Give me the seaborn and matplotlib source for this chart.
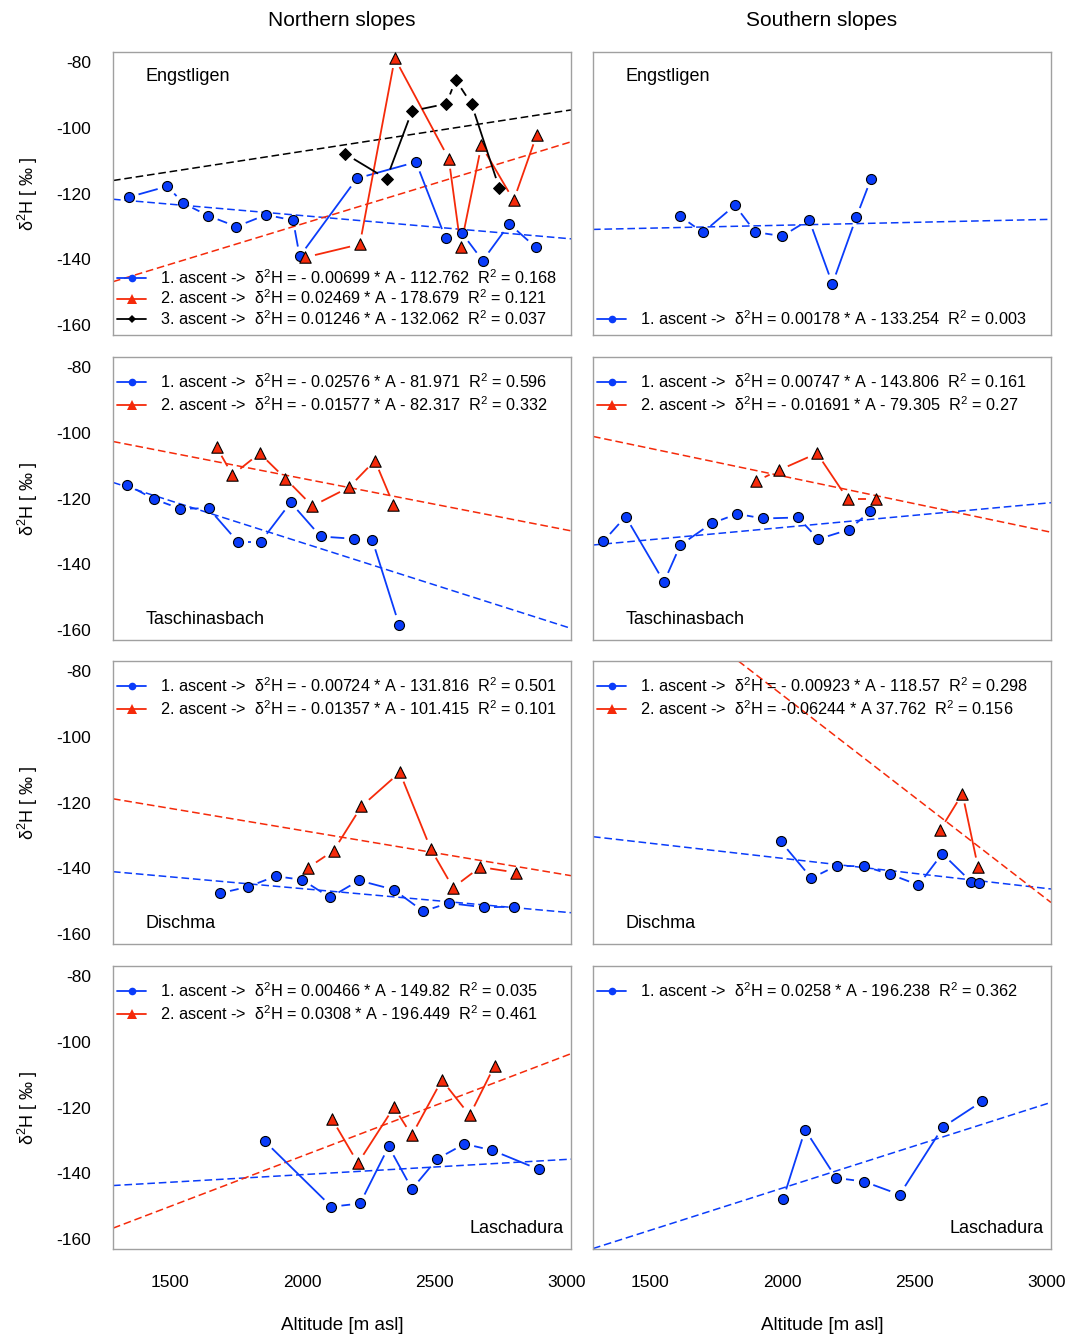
import numpy as np
import pandas as pd
import matplotlib
matplotlib.use("Agg")
import matplotlib.pyplot as plt
import seaborn as sns
from matplotlib.lines import Line2D
from matplotlib.collections import LineCollection

sns.set_theme(style="white")
plt.rcParams["font.family"] = ["Liberation Sans", "DejaVu Sans"]
plt.rcParams["text.color"] = "black"
plt.rcParams["axes.labelcolor"] = "black"
plt.rcParams["axes.unicode_minus"] = False
plt.rcParams["mathtext.fontset"] = "custom"
plt.rcParams["mathtext.rm"] = "Liberation Sans"
plt.rcParams["mathtext.it"] = "Liberation Sans:italic"
plt.rcParams["mathtext.bf"] = "Liberation Sans:bold"
plt.rcParams["mathtext.default"] = "regular"

# ---------------- data ----------------
# Engstligen, northern slopes
eng_n_alt1 = [1346, 1491, 1552, 1646, 1752, 1864, 1966, 1991, 2207, 2430, 2542, 2604, 2682, 2783, 2882]
eng_n_d1 = [-121.1, -117.8, -123.0, -126.8, -130.1, -126.5, -128.2, -139.2, -115.4, -110.4, -133.7, -132.1, -140.5, -129.3, -136.4]
eng_n_alt2 = [2012, 2218, 2350, 2554, 2599, 2677, 2799, 2886]
eng_n_d2 = [-139.5, -135.5, -78.7, -109.4, -136.2, -105.3, -122.1, -102.1]
eng_n_alt3 = [2163, 2319, 2415, 2545, 2580, 2640, 2744]
eng_n_d3 = [-107.9, -115.5, -94.8, -92.6, -85.3, -92.7, -118.2]
eng_n_slope = [-0.00699, 0.02469, 0.01246]
eng_n_icpt = [-112.762, -178.679, -132.062]
eng_n_labels = ["1. ascent ->  δ$^2$H = - 0.00699 * A - 112.762  R$^2$ = 0.168",
                "2. ascent ->  δ$^2$H = 0.02469 * A - 178.679  R$^2$ = 0.121",
                "3. ascent ->  δ$^2$H = 0.01246 * A - 132.062  R$^2$ = 0.037"]

# Engstligen, southern slopes
eng_s_alt1 = [1616, 1701, 1822, 1899, 2001, 2102, 2190, 2280, 2336]
eng_s_d1 = [-127.0, -131.9, -123.6, -131.8, -133.0, -128.0, -147.6, -127.3, -115.5]
eng_s_slope = [0.00178]
eng_s_icpt = [-133.254]
eng_s_labels = ["1. ascent ->  δ$^2$H = 0.00178 * A - 133.254  R$^2$ = 0.003"]

# Taschinasbach, northern slopes
tas_n_alt1 = [1339, 1441, 1539, 1647, 1757, 1844, 1957, 2070, 2197, 2265, 2366]
tas_n_d1 = [-115.8, -120.2, -123.1, -123.0, -133.2, -133.2, -121.2, -131.6, -132.3, -132.6, -158.5]
tas_n_alt2 = [1677, 1737, 1840, 1937, 2039, 2177, 2275, 2345]
tas_n_d2 = [-104.3, -112.8, -106.2, -113.9, -122.3, -116.6, -108.4, -121.9]
tas_n_slope = [-0.02576, -0.01577]
tas_n_icpt = [-81.971, -82.317]
tas_n_labels = ["1. ascent ->  δ$^2$H = - 0.02576 * A - 81.971  R$^2$ = 0.596",
                "2. ascent ->  δ$^2$H = - 0.01577 * A - 82.317  R$^2$ = 0.332"]

# Taschinasbach, southern slopes
tas_s_alt1 = [1325, 1409, 1554, 1616, 1734, 1830, 1929, 2060, 2137, 2252, 2333]
tas_s_d1 = [-133.1, -125.5, -145.5, -134.2, -127.6, -124.7, -126.1, -125.8, -132.4, -129.5, -123.9]
tas_s_alt2 = [1900, 1987, 2132, 2248, 2353]
tas_s_d2 = [-114.8, -111.4, -106.2, -120.2, -120.2]
tas_s_slope = [0.00747, -0.01691]
tas_s_icpt = [-143.806, -79.305]
tas_s_labels = ["1. ascent ->  δ$^2$H = 0.00747 * A - 143.806  R$^2$ = 0.161",
                "2. ascent ->  δ$^2$H = - 0.01691 * A - 79.305  R$^2$ = 0.27"]

# Dischma, northern slopes
dis_n_alt1 = [1691, 1797, 1900, 2001, 2105, 2215, 2346, 2457, 2554, 2687, 2802]
dis_n_d1 = [-147.7, -145.7, -142.5, -143.6, -149.0, -143.8, -146.6, -153.2, -150.7, -152.0, -151.8]
dis_n_alt2 = [2021, 2119, 2224, 2369, 2486, 2570, 2673, 2809]
dis_n_d2 = [-140.0, -134.7, -121.2, -110.8, -134.2, -146.0, -139.7, -141.4]
dis_n_slope = [-0.00724, -0.01357]
dis_n_icpt = [-131.816, -101.415]
dis_n_labels = ["1. ascent ->  δ$^2$H = - 0.00724 * A - 131.816  R$^2$ = 0.501",
                "2. ascent ->  δ$^2$H = - 0.01357 * A - 101.415  R$^2$ = 0.101"]

# Dischma, southern slopes
dis_s_alt1 = [1995, 2111, 2206, 2311, 2408, 2515, 2605, 2715, 2745]
dis_s_d1 = [-131.9, -143.1, -139.3, -139.5, -141.9, -145.2, -135.6, -144.3, -144.5]
dis_s_alt2 = [2596, 2681, 2740]
dis_s_d2 = [-128.5, -117.3, -139.8]
dis_s_slope = [-0.00923, -0.06244]
dis_s_icpt = [-118.57, 37.762]
dis_s_labels = ["1. ascent ->  δ$^2$H = - 0.00923 * A - 118.57  R$^2$ = 0.298",
                "2. ascent ->  δ$^2$H = -0.06244 * A 37.762  R$^2$ = 0.156"]

# Laschadura, northern slopes
las_n_alt1 = [1859, 2111, 2219, 2327, 2415, 2510, 2613, 2719, 2894]
las_n_d1 = [-130.3, -150.3, -149.3, -131.9, -144.9, -135.7, -131.1, -133.1, -138.9]
las_n_alt2 = [2113, 2211, 2347, 2414, 2528, 2633, 2727]
las_n_d2 = [-123.5, -137.0, -119.9, -128.5, -111.6, -122.4, -107.2]
las_n_slope = [0.00466, 0.0308]
las_n_icpt = [-149.82, -196.449]
las_n_labels = ["1. ascent ->  δ$^2$H = 0.00466 * A - 149.82  R$^2$ = 0.035",
                "2. ascent ->  δ$^2$H = 0.0308 * A - 196.449  R$^2$ = 0.461"]

# Laschadura, southern slopes
las_s_alt1 = [2004, 2087, 2204, 2309, 2444, 2607, 2756]
las_s_d1 = [-147.9, -126.8, -141.5, -142.6, -146.6, -126.0, -118.1]
las_s_slope = [0.0258]
las_s_icpt = [-196.238]
las_s_labels = ["1. ascent ->  δ$^2$H = 0.0258 * A - 196.238  R$^2$ = 0.362"]

col_titles = ["Northern slopes", "Southern slopes"]
x_ticks = [1500, 2000, 2500, 3000]
y_ticks = [-80, -100, -120, -140, -160]

# ---------------- styles ----------------
BLUE = "#0A3CFA"
RED = "#F52A0A"
BLACK = "#000000"
series_style = [
    dict(color=BLUE, marker="o", ms=7.2, lms=5.5),
    dict(color=RED, marker="^", ms=8.2, lms=6.5),
    dict(color=BLACK, marker="D", ms=6.0, lms=4),
]
GAP_PX = 10.0  # R type="b": line segments stop short of the points

panels = [
    (0, 0, [(eng_n_alt1, eng_n_d1), (eng_n_alt2, eng_n_d2), (eng_n_alt3, eng_n_d3)],
     eng_n_slope, eng_n_icpt, eng_n_labels, "Engstligen", "tl", "bl"),
    (0, 1, [(eng_s_alt1, eng_s_d1)], eng_s_slope, eng_s_icpt, eng_s_labels, "Engstligen", "tl", "bl"),
    (1, 0, [(tas_n_alt1, tas_n_d1), (tas_n_alt2, tas_n_d2)], tas_n_slope, tas_n_icpt, tas_n_labels,
     "Taschinasbach", "bl", "tl"),
    (1, 1, [(tas_s_alt1, tas_s_d1), (tas_s_alt2, tas_s_d2)], tas_s_slope, tas_s_icpt, tas_s_labels,
     "Taschinasbach", "bl", "tl"),
    (2, 0, [(dis_n_alt1, dis_n_d1), (dis_n_alt2, dis_n_d2)], dis_n_slope, dis_n_icpt, dis_n_labels,
     "Dischma", "bl", "tl"),
    (2, 1, [(dis_s_alt1, dis_s_d1), (dis_s_alt2, dis_s_d2)], dis_s_slope, dis_s_icpt, dis_s_labels,
     "Dischma", "bl", "tl"),
    (3, 0, [(las_n_alt1, las_n_d1), (las_n_alt2, las_n_d2)], las_n_slope, las_n_icpt, las_n_labels,
     "Laschadura", "br", "tl"),
    (3, 1, [(las_s_alt1, las_s_d1)], las_s_slope, las_s_icpt, las_s_labels, "Laschadura", "br", "tl"),
]

W, H = 1069, 1335
fig = plt.figure(figsize=(W / 100, H / 100), dpi=100)
col_left = [113, 593]
panel_w = 458
row_top = [52, 357, 661, 966]
panel_h = 283
XLIM = (1286, 3015.5)
YLIM = (-163.2, -76.8)
FRAME = "#A0A0A0"
LEGFS = 11.7


def gapped_segments(ax, xs, ys, gap):
    pts = ax.transData.transform(np.column_stack([xs, ys]))
    segs = []
    for p0, p1 in zip(pts[:-1], pts[1:]):
        v = p1 - p0
        L = np.hypot(*v)
        if L <= 2 * gap:
            continue
        u = v / L
        a = p0 + u * gap
        b = p1 - u * gap
        segs.append(ax.transData.inverted().transform(np.array([a, b])))
    return segs


for (r, c, series, slopes, icpts, labels, name, npos, lpos) in panels:
    ax = fig.add_axes([col_left[c] / W, 1 - (row_top[r] + panel_h) / H, panel_w / W, panel_h / H])
    ax.set_xlim(*XLIM)
    ax.set_ylim(*YLIM)
    handles = []
    for i, (alt, d) in enumerate(series):
        st = series_style[i]
        df = pd.DataFrame({"alt": alt, "d": d})
        segs = gapped_segments(ax, df["alt"].values, df["d"].values, GAP_PX)
        ax.add_collection(LineCollection(segs, colors=st["color"], linewidths=1.3, zorder=3))
        sns.scatterplot(data=df, x="alt", y="d", ax=ax, marker=st["marker"], s=st["ms"] ** 2,
                        color=st["color"], edgecolor="black", linewidth=0.8, zorder=5, legend=False)
        ax.axline((0, icpts[i]), slope=slopes[i], color=st["color"], linestyle=(0, (5, 2.5)),
                  linewidth=1.1, zorder=2)
        handles.append(Line2D([0], [0], color=st["color"], linewidth=1.3, marker=st["marker"],
                              ms=st["lms"], markeredgewidth=0))
    ax.set_xlim(*XLIM)
    ax.set_ylim(*YLIM)
    common = dict(frameon=False, fontsize=LEGFS, handlelength=1.8, handletextpad=0.84,
                  borderaxespad=0.1, borderpad=0.15)
    if lpos == "bl":
        ax.legend(handles, labels, loc="lower left", bbox_to_anchor=(0.0, 0.011),
                  labelspacing=0.1, **common)
    else:
        ax.legend(handles, labels, loc="upper left", bbox_to_anchor=(0.0, 0.962),
                  labelspacing=0.29, **common)
    # watershed name
    if npos == "tl":
        ax.text(0.072, 0.915, name, transform=ax.transAxes, fontsize=13, ha="left", va="center")
    elif npos == "bl":
        ax.text(0.072, 0.072, name, transform=ax.transAxes, fontsize=13, ha="left", va="center")
    else:
        ax.text(0.983, 0.072, name, transform=ax.transAxes, fontsize=13, ha="right", va="center")

    for sp in ax.spines.values():
        sp.set_color(FRAME)
        sp.set_linewidth(1.0)
    ax.set_xticks(x_ticks)
    ax.set_yticks(y_ticks)
    ax.set_xlabel("")
    ax.set_ylabel("")
    ax.tick_params(axis="both", direction="out", color=FRAME, width=1.0, labelsize=12.5,
                   labelcolor="black")
    if r == 3:
        ax.tick_params(axis="x", length=7.2, pad=11.5)
    else:
        ax.tick_params(axis="x", length=3.6, labelbottom=False)
    if c == 1:
        ax.tick_params(axis="y", length=5, labelleft=False)
    else:
        ax.tick_params(axis="y", length=7.2, pad=8.6)
    ax.grid(False)

# column titles and axis labels
for c in range(2):
    xc = (col_left[c] + panel_w / 2) / W
    fig.text(xc, 1 - 20 / H, col_titles[c], ha="center", va="center", fontsize=15)
    fig.text(xc, 1 - 1325 / H, "Altitude [m asl]", ha="center", va="center", fontsize=13.5)
for r in range(4):
    yc = 1 - (row_top[r] + panel_h / 2) / H
    fig.text(28 / W, yc, "δ$^2$H [ ‰ ]", rotation=90, ha="center", va="center", fontsize=13)

fig.savefig("out.png", dpi=100, facecolor="white")
